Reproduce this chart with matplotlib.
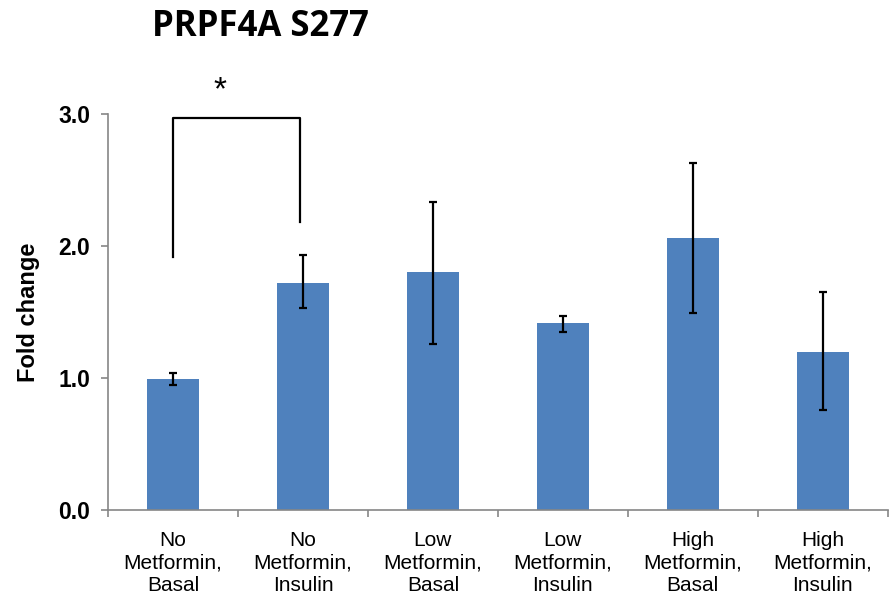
import numpy as np
import matplotlib.pyplot as plt

# -------------------- data --------------------
categories = ["No\nMetformin,\nBasal", "No\nMetformin,\nInsulin",
              "Low\nMetformin,\nBasal", "Low\nMetformin,\nInsulin",
              "High\nMetformin,\nBasal", "High\nMetformin,\nInsulin"]
fold_change = [0.99, 1.72, 1.80, 1.42, 2.06, 1.20]
err_low = [0.04, 0.19, 0.54, 0.07, 0.57, 0.44]
err_high = [0.05, 0.21, 0.53, 0.05, 0.57, 0.45]

title = "PRPF4A S277"
ylabel = "Fold change"
yticks = [0.0, 1.0, 2.0, 3.0]

# significance bracket between bar 0 and bar 1
sig_pair = (0, 1)
sig_y = 2.97
sig_left_bottom = 1.92
sig_right_bottom = 2.18
sig_text = "*"

# -------------------- figure --------------------
fig = plt.figure(figsize=(8.93, 6.11), dpi=100)
ax = fig.add_axes([0.121, 0.165, 0.873, 0.6485])

x = np.arange(len(categories))
ax.bar(x, fold_change, width=0.4, color="#4F81BD", zorder=2)
ax.errorbar(x, fold_change, yerr=[err_low, err_high], fmt="none",
            ecolor="black", elinewidth=1.6, capsize=3, capthick=1.6, zorder=3)

ax.set_xlim(-0.5, len(categories) - 0.5)
ax.set_ylim(0, 3.0)
ax.set_yticks(yticks)
ax.set_yticklabels([f"{v:.1f}" for v in yticks], fontsize=16.5,
                   fontweight="bold", family="Liberation Sans")
ax.set_xticks(x)
ax.set_xticklabels(categories, fontsize=15,
                   family=["Liberation Sans Narrow", "Liberation Sans"],
                   linespacing=1.22)
ax.set_xticks(np.arange(len(categories) + 1) - 0.5, minor=True)
ax.tick_params(axis="x", which="major", length=0, pad=15)
ax.tick_params(axis="x", which="minor", length=5, color="#868686", width=1.2)
ax.tick_params(axis="y", length=5, color="#868686", width=1.2, pad=8)

for s in ["top", "right"]:
    ax.spines[s].set_visible(False)
for s in ["left", "bottom"]:
    ax.spines[s].set_color("#868686")
    ax.spines[s].set_linewidth(1.2)

ax.set_ylabel(ylabel, fontsize=17, fontweight="bold",
              family="Liberation Sans", labelpad=13)

# significance bracket
x0, x1 = sig_pair
ax.plot([x0, x0, x1 - 0.02, x1 - 0.02],
        [sig_left_bottom, sig_y, sig_y, sig_right_bottom],
        color="black", lw=1.6, clip_on=False, zorder=4)
ax.text((x0 + x1) / 2 - 0.14, sig_y + 0.09, sig_text, ha="center",
        va="bottom", fontsize=24, family="Liberation Sans", clip_on=False)

fig.text(0.292, 0.955, title, ha="center", va="center", fontsize=25,
         fontweight="bold", family=["Open Sans", "DejaVu Sans"])

fig.savefig("out.png", dpi=100)
